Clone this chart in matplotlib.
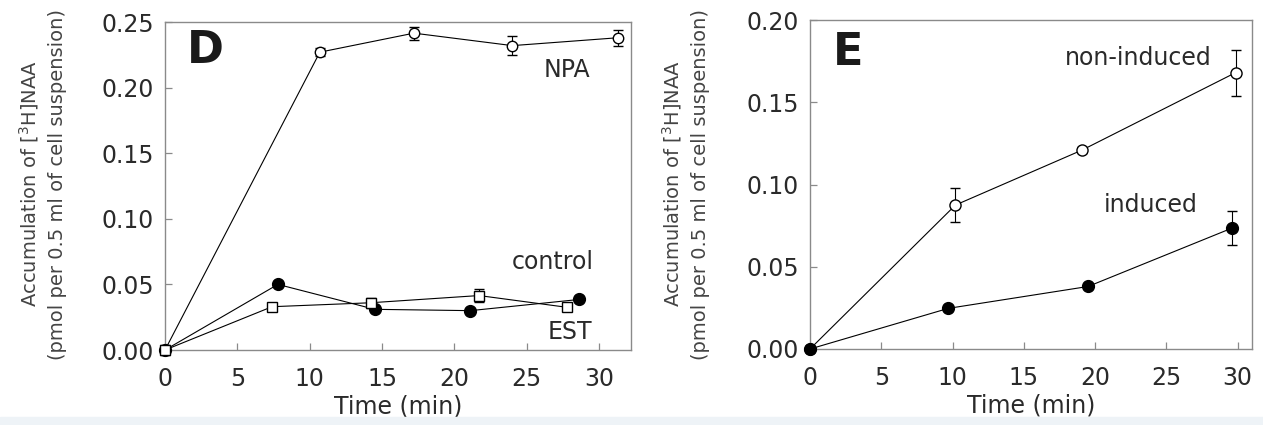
import numpy as np
import matplotlib.pyplot as plt
from matplotlib.patches import Rectangle

# panel D
time_npa = [0, 10.7, 17.2, 24.0, 31.3]
npa = [0, 0.227, 0.2415, 0.232, 0.238]
npa_err = [0.004, 0.003, 0.005, 0.007, 0.006]

time_ctrl = [0, 7.8, 14.5, 21.1, 28.6]
ctrl = [0, 0.050, 0.031, 0.030, 0.0385]

time_est = [0, 7.4, 14.2, 21.7, 27.8]
est = [0, 0.033, 0.036, 0.0415, 0.0325]
est_err = [0.003, 0.002, 0.004, 0.005, 0.002]

# panel E
time_ni = [0, 10.2, 19.1, 29.85]
noninduced = [0, 0.0875, 0.121, 0.168]
noninduced_err = [0, 0.0105, 0.002, 0.014]

time_ind = [0, 9.7, 19.5, 29.6]
induced = [0, 0.0247, 0.038, 0.0735]
induced_err = [0, 0, 0, 0.0102]

xticks = [0, 5, 10, 15, 20, 25, 30]
yticks_d = [0.00, 0.05, 0.10, 0.15, 0.20, 0.25]
yticks_e = [0.00, 0.05, 0.10, 0.15, 0.20]

plt.rcParams['font.family'] = ['DejaVu Sans']
txt = '#2a2a2a'
spine = '#8a8a8a'

fig = plt.figure(figsize=(12.63, 4.25), dpi=100)
fig.patches.append(Rectangle((0, 0), 1, 0.018, transform=fig.transFigure,
                             color='#eef3f7', zorder=0))

ax_d = fig.add_axes([165 / 1263, 1 - 350 / 425, (631 - 165) / 1263, (350 - 22) / 425])
ax_e = fig.add_axes([810 / 1263, 1 - 349 / 425, (1252 - 810) / 1263, (349 - 20) / 425])


def style(ax, yticks, xmax, ymax):
    ax.set_xlim(0, xmax)
    ax.set_ylim(0, ymax)
    ax.set_xticks(xticks)
    ax.set_yticks(yticks)
    ax.set_yticklabels(['%.2f' % v for v in yticks])
    ax.tick_params(direction='in', length=5, width=0.9, color=spine,
                   labelsize=17, labelcolor=txt)
    ax.tick_params(axis='x', pad=12)
    ax.tick_params(axis='y', pad=8)
    for s in ax.spines.values():
        s.set_color(spine)
        s.set_linewidth(1.0)
    ax.set_xlabel('Time (min)', fontsize=17, color=txt, labelpad=3)


def series(ax, x, y, err, marker, face, size):
    ax.errorbar(x, y, yerr=err, fmt='-', color='black', lw=0.8,
                marker=marker, markerfacecolor=face, markeredgecolor='black',
                markeredgewidth=1.0, markersize=size, capsize=3.5,
                elinewidth=0.8, capthick=0.8, clip_on=False, zorder=3)


style(ax_d, yticks_d, 32.2, 0.25)
series(ax_d, time_npa, npa, npa_err, 'o', 'white', 7.5)
series(ax_d, time_ctrl, ctrl, None, 'o', 'black', 8.5)
series(ax_d, time_est, est, est_err, 's', 'white', 7)
ax_d.text(1.5, 0.2286, 'D', fontsize=32, fontweight='bold', va='center', color='#1a1a1a')
ax_d.text(29.4, 0.2134, 'NPA', fontsize=17, ha='right', va='center', color=txt)
ax_d.text(29.65, 0.067, 'control', fontsize=17, ha='right', va='center', color=txt)
ax_d.text(29.5, 0.0136, 'EST', fontsize=17, ha='right', va='center', color=txt)

style(ax_e, yticks_e, 31.0, 0.20)
series(ax_e, time_ni, noninduced, noninduced_err, 'o', 'white', 8)
series(ax_e, time_ind, induced, induced_err, 'o', 'black', 8.5)
ax_e.text(1.6, 0.180, 'E', fontsize=32, fontweight='bold', va='center', color='#1a1a1a')
ax_e.text(28.2, 0.1771, 'non-induced', fontsize=17, ha='right', va='center', color=txt)
ax_e.text(27.2, 0.0873, 'induced', fontsize=17, ha='right', va='center', color=txt)

line1 = r'Accumulation of [$^3$H]NAA'
line2 = '(pmol per 0.5 ml of cell suspension)'
for x1, x2 in [(29, 58), (672, 700)]:
    fig.text(x1 / 1263, 1 - 184 / 425, line1, rotation=90, fontsize=14,
             ha='center', va='center', color='#444444')
    fig.text(x2 / 1263, 1 - 184 / 425, line2, rotation=90, fontsize=14,
             ha='center', va='center', color='#444444')

fig.savefig('out.png', dpi=100)
